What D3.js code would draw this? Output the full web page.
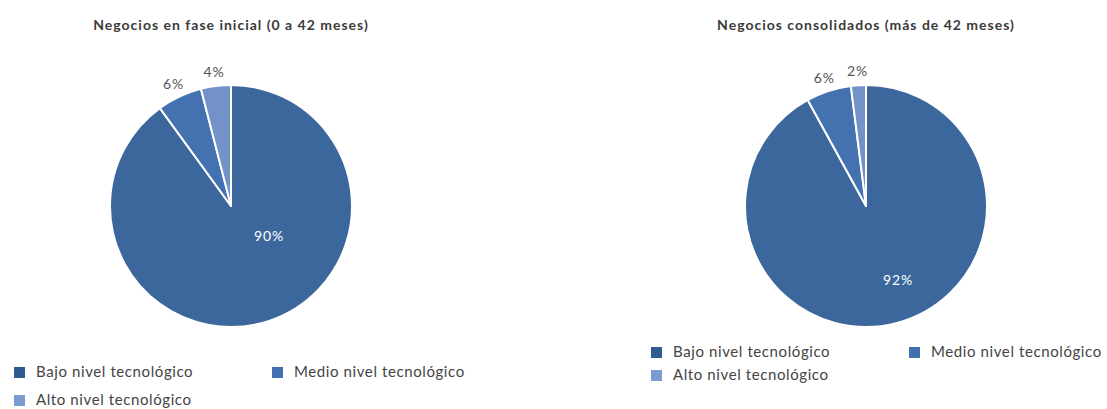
<!DOCTYPE html>
<html>
<head>
<meta charset="utf-8">
<script src="https://cdn.jsdelivr.net/npm/d3@7"></script>
<style>
    body { margin: 0; background: #ffffff; }
    svg text { font-family: Lato, "Open Sans", sans-serif; }
</style>
</head>
<body>
<svg id="chart-svg" width="1107" height="409"></svg>
<script>
/** Data **/
var categories = ["Bajo nivel tecnológico", "Medio nivel tecnológico", "Alto nivel tecnológico"];
var titles = ["Negocios en fase inicial (0 a 42 meses)", "Negocios consolidados (más de 42 meses)"];
var inicialValues = [90, 6, 4];
var consolidadoValues = [92, 6, 2];

/** Colours per category **/
var sliceColors = ["#3c679c", "#4472b0", "#7393c8"];
var legendColors = ["#2f5b8e", "#4070b0", "#7c9bd0"];

var svg = d3.select("#chart-svg");
var radius = 121;

/** Layout for each pie: centre, big-label offset and legend spots **/
var charts = [
    {title: titles[0], values: inicialValues, cx: 231, cy: 206, titleY: 30,
     bigLabel: [38, 35], legendX: [14, 272], legendY: [367, 395]},
    {title: titles[1], values: consolidadoValues, cx: 866, cy: 206, titleY: 30,
     bigLabel: [32, 79], legendX: [651, 909], legendY: [347, 370]}
];

var pie = d3.pie().sort(null).value(function(d){ return d; });
var arc = d3.arc().innerRadius(0).outerRadius(radius);
var outerLabel = d3.arc().innerRadius(radius + 14).outerRadius(radius + 14);

charts.forEach(function(c){
    var g = svg.append("g")
        .attr("transform", "translate(" + c.cx + "," + c.cy + ")");

    /** Title **/
    svg.append("text")
        .text(c.title)
        .attr("x", c.cx)
        .attr("y", c.titleY)
        .style("text-anchor", "middle")
        .style("font-size", "14px")
        .style("font-weight", "700")
        .style("letter-spacing", "1px")
        .style("fill", "#3a3a3a");

    /** Slices **/
    var arcs = pie(c.values);
    g.selectAll("path")
        .data(arcs)
        .enter().append("path")
        .attr("d", arc)
        .attr("fill", function(d, i){ return sliceColors[i]; })
        .attr("stroke", "#ffffff")
        .attr("stroke-width", 2)
        .attr("stroke-linejoin", "round");

    /** Labels: big slice inside, small ones outside **/
    g.selectAll("text.lbl")
        .data(arcs)
        .enter().append("text")
        .attr("class", "lbl")
        .text(function(d){ return d.data + "%"; })
        .attr("transform", function(d, i){
            if(i === 0){ return "translate(" + c.bigLabel[0] + "," + c.bigLabel[1] + ")"; }
            var p = outerLabel.centroid(d);
            return "translate(" + p[0] + "," + (p[1] + 5) + ")";
        })
        .style("text-anchor", "middle")
        .style("font-size", "14px")
        .style("letter-spacing", "0.8px")
        .style("fill", function(d, i){ return i === 0 ? "#ffffff" : "#555555"; });

    /** Legend **/
    var spots = [[0, 0], [1, 0], [0, 1]];
    var leg = svg.selectAll(null)
        .data(categories)
        .enter().append("g")
        .attr("transform", function(d, i){
            return "translate(" + c.legendX[spots[i][0]] + "," + c.legendY[spots[i][1]] + ")";
        });
    leg.append("rect")
        .attr("width", 11)
        .attr("height", 11)
        .attr("fill", function(d, i){ return legendColors[i]; });
    leg.append("text")
        .text(function(d){ return d; })
        .attr("x", 22)
        .attr("y", 10)
        .style("font-size", "15px")
        .style("letter-spacing", "0.6px")
        .style("fill", "#444444");
});
</script>
</body>
</html>
